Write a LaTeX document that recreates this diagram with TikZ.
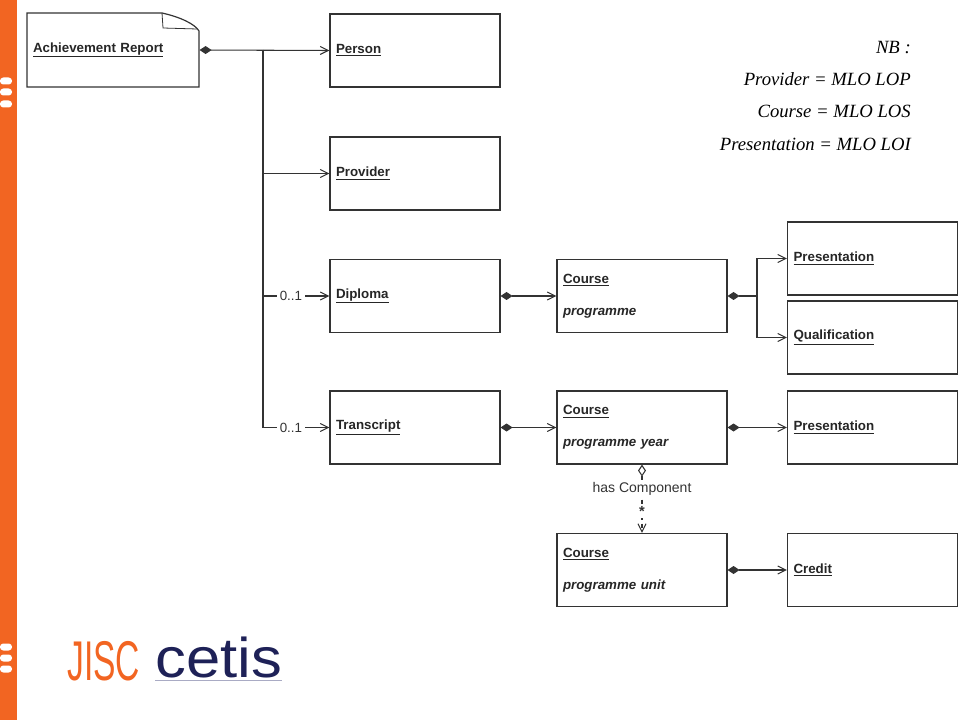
\documentclass[tikz,border=0pt]{standalone}
\usepackage{fontspec}
\setmainfont{Liberation Serif}
\setsansfont{Liberation Sans}
\usetikzlibrary{arrows.meta}
\definecolor{jiscorange}{HTML}{F26522}
\definecolor{cetisblue}{HTML}{1E2157}
\definecolor{cetisline}{HTML}{A9ABC4}
\tikzset{
 box/.style={draw=black!80, line width=.9pt, minimum width=127.5pt, minimum height=54.75pt, text width=118.5pt, inner xsep=4.5pt, align=left, text=black!85, font=\sffamily\bfseries\fontsize{10}{24}\selectfont},
 comp/.style={draw=black!80, line width=.8pt, {Diamond[length=9pt,width=6pt]}-{Straight Barb[length=6pt,width=6pt]}},
 link/.style={draw=black!80, line width=.8pt, -{Straight Barb[length=6pt,width=6pt]}},
 mult/.style={fill=white, inner sep=2pt, text=black!80, font=\sffamily\fontsize{10}{12}\selectfont}
}
\begin{document}
\begin{tikzpicture}[x=.75pt, y=-.75pt]
\useasboundingbox (0,0) rectangle (960,720);
\fill[jiscorange] (0,0) rectangle (17,720);
\foreach \y in {81,92,104,647,658,669}
 \fill[white, rounded corners=2.5pt] (0,\y-3.5) rectangle (12,\y+3.5);

\node[box, draw=none, minimum width=129pt, minimum height=55.5pt, text width=120pt] (AR) at (113,50) {\underline{Achievement Report}};
\draw[black!80, line width=.9pt] (27,13) -- (162,13) .. controls (180,17) and (195,24) .. (199,31) -- (199,87) -- (27,87) -- cycle;
\draw[black!80, line width=.6pt] (162,13) -- (163,28) -- (197,29);

\node[box] (Person) at (415,50.5) {\underline{Person}};
\node[box] (Provider) at (415,173.5) {\underline{Provider}};
\node[box] (Diploma) at (415,296) {\underline{Diploma}};
\node[box] (Transcript) at (415,427.5) {\underline{Transcript}};
\node[box] (CP) at (642,296) {\underline{Course}\\\textit{programme}};
\node[box] (CPY) at (642,427.5) {\underline{Course}\\\textit{programme year}};
\node[box] (CPU) at (642,570) {\underline{Course}\\\textit{programme unit}};
\node[box] (Pres1) at (872.5,258.5) {\underline{Presentation}};
\node[box] (Qual) at (872.5,337.5) {\underline{Qualification}};
\node[box] (Pres2) at (872.5,427.5) {\underline{Presentation}};
\node[box] (Credit) at (872.5,570) {\underline{Credit}};

\coordinate (jA) at (263,50);
\coordinate (jB) at (757,296);
\draw[comp] (AR.east) -- (Person.west);
\draw[link] (jA) |- (Provider.west);
\draw[link] (jA) |- node[mult, pos=.71]{0..1} (Diploma.west);
\draw[link] (jA) |- node[mult, pos=.71]{0..1} (Transcript.west);
\draw[comp] (Diploma.east) -- (CP.west);
\draw[black!80, line width=.8pt, {Diamond[length=9pt,width=6pt]}-] (CP.east) -- (jB);
\draw[link] (jB) |- (Pres1.west);
\draw[link] (jB) |- (Qual.west);
\draw[comp] (Transcript.east) -- (CPY.west);
\draw[comp] (CPY.east) -- (Pres2.west);
\draw[comp] (CPU.east) -- (Credit.west);
\draw[black!80, line width=.8pt, dashed, {Diamond[open,length=9pt,width=6pt]}-{Straight Barb[length=6pt,width=6pt]}] (CPY.south) -- node[mult, pos=.36, font=\sffamily\fontsize{10.5}{12}\selectfont]{has Component} node[mult, pos=.69, inner sep=1pt, font=\sffamily\bfseries\fontsize{11}{12}\selectfont]{*} (CPU.north);

\node[anchor=east, align=right, inner sep=0, font=\rmfamily\itshape\fontsize{14}{24.25}\selectfont] (nb) at (911,95.5) {NB :\\Provider = MLO LOP\\Course = MLO LOS\\Presentation = MLO LOI};

\node[anchor=base west, inner sep=0, text=jiscorange, font=\sffamily\fontsize{42}{42}\selectfont] (jisc) at (67,680) {\scalebox{.6}[1]{JISC}};
\node[anchor=base west, inner sep=0, text=cetisblue, font=\sffamily\fontsize{42}{42}\selectfont] (cetis) at (155,677) {\scalebox{1.1}[1]{cetis}};
\draw[cetisline, line width=1pt] ([yshift=-2.5pt]cetis.base west) -- ([yshift=-2.5pt]cetis.base east);
\end{tikzpicture}
\end{document}
